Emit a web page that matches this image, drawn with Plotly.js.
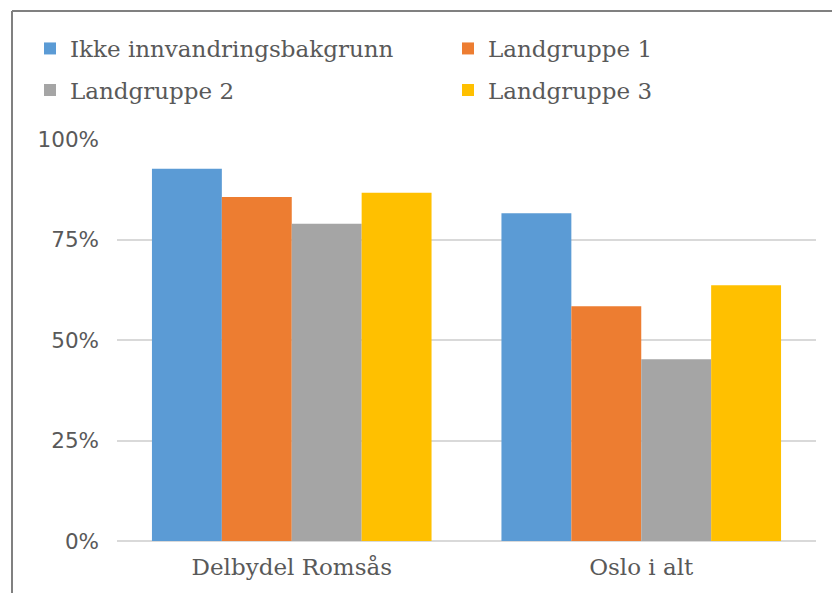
<!DOCTYPE html>
<html>
<head>
<meta charset="utf-8">
<script src="https://cdn.plot.ly/plotly-3.0.1.min.js"></script>
<style>html,body{margin:0;padding:0;background:#fff;}#chart{width:832px;height:593px;}</style>
</head>
<body>
<div id="chart"></div>
<script>
const categories = ["Delbydel Romsås", "Oslo i alt"];
const seriesNames = ["Ikke innvandringsbakgrunn", "Landgruppe 1", "Landgruppe 2", "Landgruppe 3"];
const ikkeInnvandring = [0.926, 0.815];
const landgruppe1 = [0.856, 0.584];
const landgruppe2 = [0.789, 0.452];
const landgruppe3 = [0.866, 0.636];
const yTickVals = [0, 0.25, 0.5, 0.75, 1];
const yTickText = ["0%", "25%", "50%", "75%", "100%"];

const colors = ["#5B9BD5", "#ED7D31", "#A5A5A5", "#FFC000"];
const values = [ikkeInnvandring, landgruppe1, landgruppe2, landgruppe3];
const legendIds = ["legend", "legend2", "legend3", "legend4"];

const traces = values.map((v, i) => ({
  type: "bar",
  name: seriesNames[i],
  x: categories,
  y: v,
  marker: {color: colors[i]},
  legend: legendIds[i],
  hoverinfo: "none"
}));

const W = 832, H = 593;
const mL = 117, mR = 16, mT = 139, mB = 52.3;
const pw = W - mL - mR, ph = H - mT - mB;
const px = v => (v - mL) / pw;
const py = v => (H - mB - v) / ph;

const serif = "DejaVu Serif";
const textColor = "#595959";
const legendCommon = {
  orientation: "h",
  xref: "container", yref: "container",
  xanchor: "left", yanchor: "middle",
  font: {family: serif, size: 23, color: textColor},
  bgcolor: "rgba(0,0,0,0)",
  borderwidth: 0
};
const leg = (xpx, ypx) => Object.assign({}, legendCommon, {x: xpx / W, y: 1 - ypx / H});

const layout = {
  width: W, height: H,
  margin: {l: mL, r: mR, t: mT, b: mB, pad: 0},
  paper_bgcolor: "#ffffff",
  plot_bgcolor: "#ffffff",
  barmode: "group",
  bargap: 0.2,
  bargroupgap: 0,
  showlegend: true,
  legend: leg(30, 48.5),
  legend2: leg(448, 48.5),
  legend3: leg(30, 90),
  legend4: leg(448, 90),
  xaxis: {
    type: "category",
    showgrid: false,
    showline: false,
    zeroline: false,
    ticks: "",
    ticklabelstandoff: 10,
    tickfont: {family: serif, size: 23, color: textColor}
  },
  yaxis: {
    range: [0, 1],
    tickvals: yTickVals,
    ticktext: yTickText,
    showgrid: true,
    gridcolor: "#d9d9d9",
    gridwidth: 2,
    zeroline: true,
    zerolinecolor: "#d9d9d9",
    zerolinewidth: 2,
    showline: false,
    ticks: "",
    ticklabelstandoff: 17,
    tickfont: {family: "DejaVu Sans", size: 21.5, color: textColor}
  },
  shapes: [
    {type: "line", xref: "paper", yref: "paper", x0: px(12), x1: px(840), y0: py(11), y1: py(11), line: {color: "#808080", width: 2}},
    {type: "line", xref: "paper", yref: "paper", x0: px(12), x1: px(12), y0: py(11), y1: py(600), line: {color: "#808080", width: 2}}
  ]
};

Plotly.newPlot("chart", traces, layout, {displayModeBar: false, staticPlot: true});
</script>
</body>
</html>
